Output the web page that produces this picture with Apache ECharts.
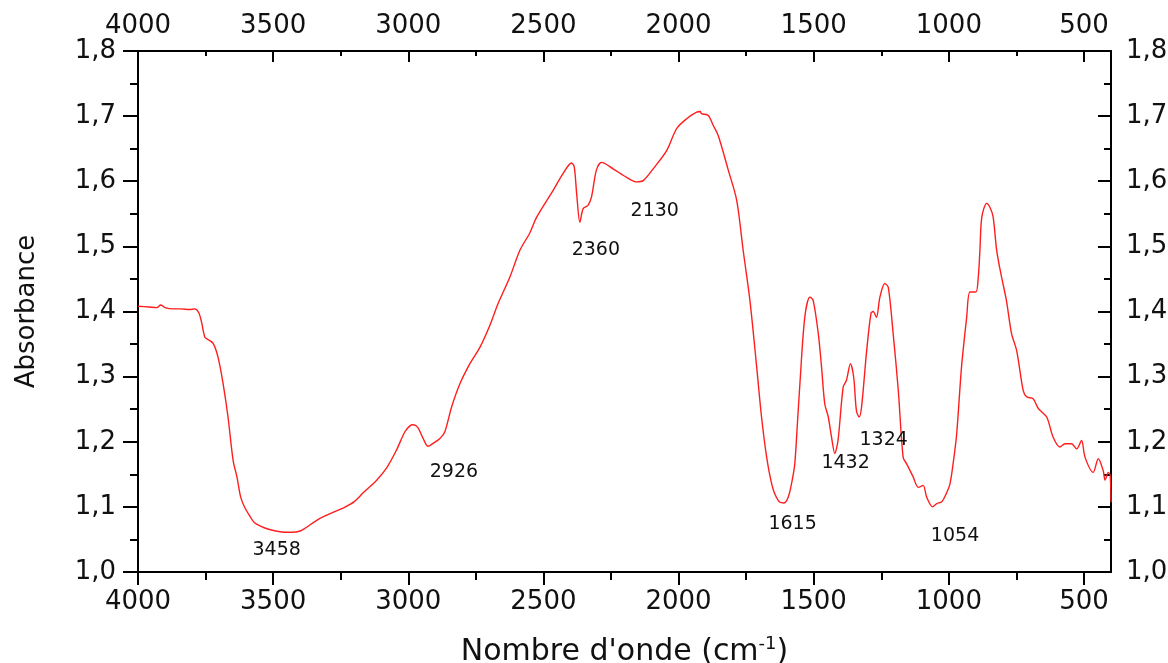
<!DOCTYPE html>
<html>
<head>
<meta charset="utf-8">
<title>Spectre IR</title>
<script src="https://cdn.jsdelivr.net/npm/echarts@6/dist/echarts.min.js"></script>
<style>
  html, body { margin: 0; padding: 0; background: #fff; }
  #chart { width: 1168px; height: 663px; }
</style>
</head>
<body>
<div id="chart"></div>
<script>
// Wavenumber (cm-1), from 4000 down to 400
const wavenumber = [
  4000, 3960, 3930, 3916, 3900, 3870, 3840, 3810, 3790, 3775,
  3765, 3753, 3741, 3722, 3704, 3685, 3667, 3648, 3634, 3620,
  3605, 3585, 3570, 3545, 3520, 3490, 3458, 3430, 3400, 3379,
  3340, 3308, 3270, 3237, 3200, 3166, 3117, 3080, 3044, 3013,
  2995, 2982, 2965, 2945, 2927, 2910, 2883, 2865, 2840, 2809,
  2772, 2735, 2698, 2668, 2624, 2587, 2550, 2525, 2464, 2427,
  2396, 2386, 2377, 2365, 2353, 2335, 2322, 2304, 2285, 2242,
  2192, 2155, 2131, 2094, 2044, 2007, 1970, 1933, 1920, 1915,
  1890, 1872, 1853, 1816, 1785, 1761, 1736, 1711, 1693, 1674,
  1658, 1644, 1625, 1610, 1594, 1580, 1570, 1560, 1551, 1533,
  1514, 1502, 1483, 1471, 1459, 1446, 1434, 1422, 1410, 1391,
  1379, 1364, 1352, 1342, 1332, 1323, 1304, 1288, 1280, 1268,
  1255, 1237, 1224, 1206, 1187, 1169, 1156, 1132, 1113, 1095,
  1082, 1060, 1045, 1026, 1010, 996, 983, 971, 953, 934,
  922, 900, 891, 885, 878, 860, 848, 836, 823, 805,
  787, 768, 749, 725, 712, 688, 669, 638, 614, 589,
  570, 546, 527, 509, 496, 466, 447, 429, 422, 410,
  403, 400
];

// Absorbance at each wavenumber
const absorbance = [
  1.408, 1.407, 1.406, 1.410, 1.406, 1.404, 1.404, 1.403, 1.404, 1.398,
  1.384, 1.361, 1.357, 1.351, 1.330, 1.289, 1.238, 1.171, 1.146, 1.115,
  1.099, 1.085, 1.076, 1.070, 1.066, 1.063, 1.061, 1.061, 1.063, 1.068,
  1.079, 1.086, 1.093, 1.099, 1.108, 1.122, 1.141, 1.160, 1.187, 1.215,
  1.224, 1.226, 1.222, 1.205, 1.193, 1.197, 1.205, 1.215, 1.253, 1.289,
  1.320, 1.345, 1.379, 1.412, 1.453, 1.494, 1.521, 1.545, 1.586, 1.612,
  1.628, 1.622, 1.581, 1.537, 1.558, 1.563, 1.576, 1.617, 1.629, 1.619,
  1.606, 1.599, 1.601, 1.619, 1.647, 1.681, 1.696, 1.706, 1.707, 1.704,
  1.701, 1.686, 1.670, 1.617, 1.571, 1.494, 1.417, 1.315, 1.238, 1.176,
  1.140, 1.120, 1.107, 1.106, 1.115, 1.140, 1.166, 1.230, 1.289, 1.391,
  1.422, 1.417, 1.366, 1.315, 1.258, 1.238, 1.207, 1.182, 1.202, 1.284,
  1.294, 1.320, 1.299, 1.248, 1.238, 1.253, 1.340, 1.397, 1.400, 1.391,
  1.422, 1.443, 1.437, 1.366, 1.279, 1.176, 1.166, 1.146, 1.130, 1.133,
  1.115, 1.100, 1.105, 1.108, 1.120, 1.135, 1.170, 1.212, 1.315, 1.391,
  1.430, 1.430, 1.453, 1.494, 1.545, 1.566, 1.560, 1.545, 1.494, 1.453,
  1.417, 1.366, 1.340, 1.279, 1.269, 1.266, 1.251, 1.238, 1.207, 1.192,
  1.197, 1.197, 1.189, 1.202, 1.176, 1.153, 1.174, 1.156, 1.141, 1.153,
  1.148, 1.107
];

// Band annotations: text and where it sits (wavenumber, absorbance)
const bandNames = ['3458', '2926', '2360', '2130', '1615', '1432', '1324', '1054'];
const bandTextX = [3487, 2831, 2306, 2088, 1578, 1382, 1241, 977];
const bandTextY = [1.033, 1.154, 1.495, 1.554, 1.073, 1.168, 1.202, 1.055];

// Axis ticks
const xMajorTicks = [500, 1000, 1500, 2000, 2500, 3000, 3500, 4000];
const xMinorTicks = [750, 1250, 1750, 2250, 2750, 3250, 3750];

const FONT = 'DejaVu Sans';
const INK = '#111';

const spectrum = wavenumber.map((w, i) => [w, absorbance[i]]);
const bands = bandNames.map((n, i) => [bandTextX[i], bandTextY[i], n]);

const gridBox = { left: 138, top: 51, width: 973, height: 521, containLabel: false, outerBoundsMode: 'none' };

function xBase(gridIndex, position) {
  return {
    type: 'value', gridIndex, position,
    min: 400, max: 4000, inverse: true,
    splitLine: { show: false }
  };
}

const plainNumber = v => String(Math.round(v));
const commaDecimal = v => v.toFixed(1).replace('.', ',');

const chart = echarts.init(document.getElementById('chart'), null, { renderer: 'canvas' });

chart.setOption({
  animation: false,
  backgroundColor: '#fff',
  textStyle: { fontFamily: FONT },
  grid: [
    Object.assign({}, gridBox),
    Object.assign({}, gridBox)
  ],
  xAxis: [
    // bottom axis with labels and title
    Object.assign(xBase(0, 'bottom'), {
      axisLine: { show: true, lineStyle: { color: '#000', width: 2 } },
      axisTick: { show: true, inside: false, length: 13, customValues: xMajorTicks,
        lineStyle: { color: '#000', width: 2 } },
      axisLabel: { show: true, customValues: xMajorTicks, margin: 17,
        fontSize: 26, color: INK, fontFamily: FONT, formatter: plainNumber },
      name: "Nombre d'onde (cm{sup|-1})",
      nameLocation: 'middle',
      nameGap: 63,
      nameTextStyle: {
        fontSize: 30, color: INK, fontFamily: FONT,
        rich: {
          sup: { fontSize: 18, color: INK, fontFamily: FONT, verticalAlign: 'top', padding: [0, 0, 16, 0] }
        }
      }
    }),
    // top axis with labels
    Object.assign(xBase(0, 'top'), {
      axisLine: { show: true, lineStyle: { color: '#000', width: 2 } },
      axisTick: { show: true, inside: true, length: 11, customValues: xMajorTicks,
        lineStyle: { color: '#000', width: 2 } },
      axisLabel: { show: true, customValues: xMajorTicks, margin: 12,
        fontSize: 26, color: INK, fontFamily: FONT, formatter: plainNumber }
    }),
    // minor ticks, bottom
    Object.assign(xBase(1, 'bottom'), {
      axisLine: { show: false },
      axisTick: { show: true, inside: false, length: 8, customValues: xMinorTicks,
        lineStyle: { color: '#000', width: 2 } },
      axisLabel: { show: false }
    }),
    // minor ticks, top
    Object.assign(xBase(1, 'top'), {
      axisLine: { show: false },
      axisTick: { show: true, inside: true, length: 5, customValues: xMinorTicks,
        lineStyle: { color: '#000', width: 2 } },
      axisLabel: { show: false }
    })
  ],
  yAxis: [
    {
      type: 'value', gridIndex: 0, position: 'left',
      min: 1.0, max: 1.8, interval: 0.1,
      splitLine: { show: false },
      axisLine: { show: true, lineStyle: { color: '#000', width: 2 } },
      axisTick: { show: true, inside: false, length: 15, lineStyle: { color: '#000', width: 2 } },
      minorTick: { show: true, splitNumber: 2, length: 8, lineStyle: { color: '#000', width: 2 } },
      axisLabel: {
        margin: 22, fontSize: 26, color: INK, fontFamily: FONT,
        formatter: commaDecimal
      },
      name: 'Absorbance',
      nameLocation: 'middle',
      nameRotate: 90,
      nameGap: 98,
      nameTextStyle: { fontSize: 26, color: INK, fontFamily: FONT }
    },
    {
      type: 'value', gridIndex: 0, position: 'right',
      min: 1.0, max: 1.8, interval: 0.1,
      splitLine: { show: false },
      axisLine: { show: true, lineStyle: { color: '#000', width: 2 } },
      axisTick: { show: true, inside: true, length: 13, lineStyle: { color: '#000', width: 2 } },
      minorTick: { show: true, splitNumber: 2, length: 7, lineStyle: { color: '#000', width: 2 } },
      axisLabel: {
        margin: 15, fontSize: 26, color: INK, fontFamily: FONT,
        formatter: commaDecimal
      }
    },
    {
      type: 'value', gridIndex: 1, min: 1.0, max: 1.8, show: false
    }
  ],
  series: [
    {
      type: 'line',
      name: 'Absorbance',
      xAxisIndex: 0, yAxisIndex: 0,
      data: spectrum,
      showSymbol: false,
      smooth: 0.3,
      lineStyle: { color: '#ff1e1e', width: 1.4 },
      z: 3
    },
    {
      type: 'scatter',
      xAxisIndex: 0, yAxisIndex: 0,
      data: bands,
      symbolSize: 0,
      silent: true,
      itemStyle: { opacity: 1 },
      label: {
        show: true,
        position: 'inside',
        formatter: p => p.data[2],
        fontSize: 19, color: '#111', fontFamily: FONT
      },
      z: 4
    }
  ]
});
</script>
</body>
</html>
